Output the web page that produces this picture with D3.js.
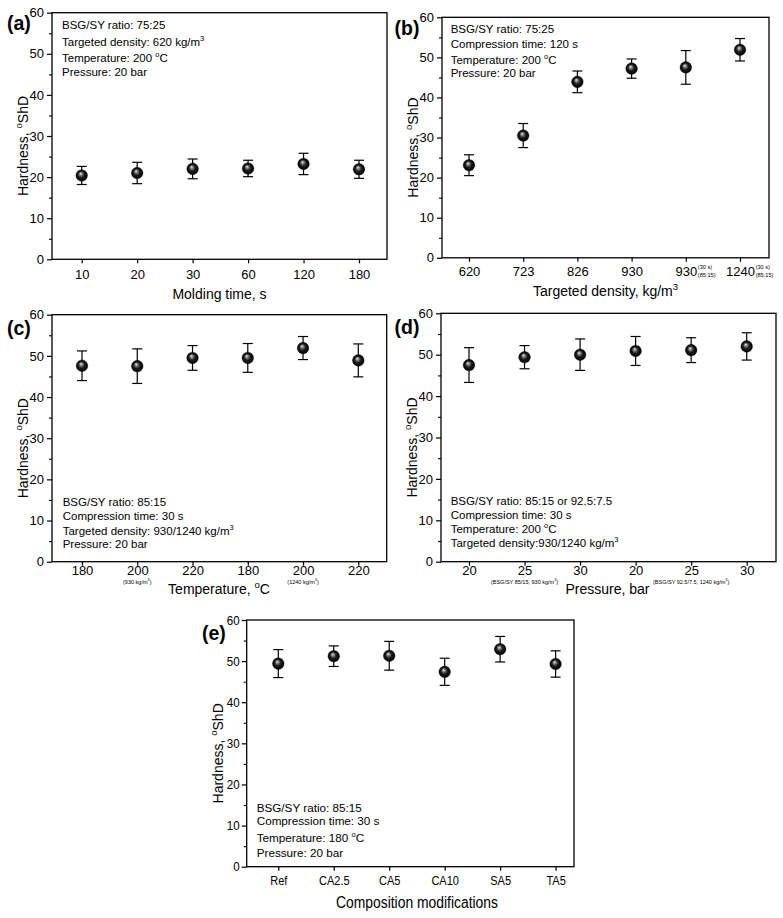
<!DOCTYPE html>
<html>
<head>
<meta charset="utf-8">
<script src="https://cdn.jsdelivr.net/npm/d3@7"></script>
<style>
  html, body { margin: 0; padding: 0; background: #fff; }
  svg { display: block; font-family: "Liberation Sans", Arial, sans-serif; }
</style>
</head>
<body>
<svg id="chart" width="783" height="918"></svg>
<script>
// ---------------- DATA ----------------
const yTicks = [0, 10, 20, 30, 40, 50, 60];

const aCats = ["10", "20", "30", "60", "120", "180"];
const aMean = [20.4, 21.0, 22.0, 22.1, 23.2, 21.9];
const aErr  = [2.2, 2.6, 2.4, 2.0, 2.6, 2.2];

const bCats = ["620", "723", "826", "930", "930", "1240"];
const bMean = [23.1, 30.5, 43.9, 47.2, 47.5, 51.9];
const bErr  = [2.6, 3.0, 2.7, 2.4, 4.2, 2.8];
const bNoteTop = ["", "", "", "", "(30 s)", "(30 s)"];
const bNoteBot = ["", "", "", "", "(85:15)", "(85:15)"];

const cCats = ["180", "200", "220", "180", "200", "220"];
const cMean = [47.6, 47.5, 49.5, 49.5, 51.9, 48.9];
const cErr  = [3.6, 4.2, 3.0, 3.5, 2.8, 4.0];
const cSub  = ["", "(930 kg/m3)", "", "", "(1240 kg/m3)", ""];

const dCats = ["20", "25", "30", "20", "25", "30"];
const dMean = [47.5, 49.4, 50.0, 50.9, 51.1, 52.0];
const dErr  = [4.2, 2.8, 3.8, 3.5, 3.0, 3.3];
const dSub  = ["", "(BSG/SY 85/15, 930 kg/m3)", "", "", "(BSG/SY 92.5/7.5, 1240 kg/m3)", ""];

const eCats = ["Ref", "CA2.5", "CA5", "CA10", "SA5", "TA5"];
const eMean = [49.4, 51.2, 51.3, 47.4, 52.9, 49.3];
const eErr  = [3.4, 2.5, 3.5, 3.3, 3.1, 3.2];

// annotation lines: segments [text, isSup]
const aNotes = [[["BSG/SY ratio: 75:25"]], [["Targeted density: 620 kg/m"], ["3", 1]], [["Temperature: 200 "], ["o", 1], ["C"]], [["Pressure: 20 bar"]]];
const bNotes = [[["BSG/SY ratio: 75:25"]], [["Compression time: 120 s"]], [["Temperature: 200 "], ["o", 1], ["C"]], [["Pressure: 20 bar"]]];
const cNotes = [[["BSG/SY ratio: 85:15"]], [["Compression time: 30 s"]], [["Targeted density: 930/1240 kg/m"], ["3", 1]], [["Pressure: 20 bar"]]];
const dNotes = [[["BSG/SY ratio: 85:15 or 92.5:7.5"]], [["Compression time: 30 s"]], [["Temperature: 200 "], ["o", 1], ["C"]], [["Targeted density:930/1240 kg/m"], ["3", 1]]];
const eNotes = [[["BSG/SY ratio: 85:15"]], [["Compression time: 30 s"]], [["Temperature: 180 "], ["o", 1], ["C"]], [["Pressure: 20 bar"]]];

const yTitle = [["Hardness, "], ["o", 1], ["ShD"]];

// ---------------- LAYOUT ----------------
const panels = [
  { label: "(a)", lx: 7,   ly: 29.6, left: 52,  right: 387, top: 12.7, bottom: 259.3, x0: 81.7, x1: 359,
    cats: aCats, mean: aMean, err: aErr, notes: aNotes, nx: 62, ny: [29.3, 45.7, 62.3, 76],
    xTitle: [["Molding time, s"]], xtX: 219.5, xtY: 298.5, tickPad: 6 },
  { label: "(b)", lx: 394.5, ly: 34.6, left: 442, right: 769, top: 17.3, bottom: 257.8, x0: 469, x1: 740,
    cats: bCats, mean: bMean, err: bErr, notes: bNotes, nx: 450.7, ny: [33.3, 47.7, 64, 77.3],
    xTitle: [["Targeted density, kg/m"], ["3", 1]], xtX: 605.5, xtY: 295.5, noteTop: bNoteTop, noteBot: bNoteBot, tickPad: 5 },
  { label: "(c)", lx: 7,   ly: 334.6, left: 52,  right: 386.7, top: 314.7, bottom: 561.7, x0: 82, x1: 358.3,
    cats: cCats, mean: cMean, err: cErr, notes: cNotes, nx: 62.7, ny: [506, 520, 534.5, 547.5],
    xTitle: [["Temperature, "], ["o", 1], ["C"]], xtX: 219, xtY: 593.5, sub: cSub, tickPad: 0.5 },
  { label: "(d)", lx: 394.5, ly: 333.5, left: 441, right: 776, top: 313.3, bottom: 561.7, x0: 469, x1: 746.7,
    cats: dCats, mean: dMean, err: dErr, notes: dNotes, nx: 450.7, ny: [505, 519, 533.3, 547.3],
    xTitle: [["Pressure, bar"]], xtX: 607.5, xtY: 593.5, sub: dSub, tickPad: 0.5 },
  { label: "(e)", lx: 202, ly: 639.6, left: 246.7, right: 574, top: 620, bottom: 866.7, x0: 278.3, x1: 555.6,
    cats: eCats, mean: eMean, err: eErr, notes: eNotes, nx: 256.7, ny: [811.7, 824.5, 842.3, 857],
    xTitle: [["Composition modifications"]], xtX: 417, xtY: 908, narrow: true, tickPad: 5.5 }
];

const svg = d3.select("#chart");

// sphere gradient
const defs = svg.append("defs");
const grad = defs.append("radialGradient").attr("id", "sphere")
  .attr("cx", 0.5).attr("cy", 0.5).attr("r", 0.5).attr("fx", 0.4).attr("fy", 0.33);
grad.append("stop").attr("offset", "0%").attr("stop-color", "#f2f2f2");
grad.append("stop").attr("offset", "22%").attr("stop-color", "#8a8a8a");
grad.append("stop").attr("offset", "55%").attr("stop-color", "#1c1c1c");
grad.append("stop").attr("offset", "100%").attr("stop-color", "#000");

// text with superscript segments; base = font size of the text element
function rich(textSel, segs, base, supSize) {
  const shift = base * 0.42;
  let prevSup = false;
  segs.forEach(s => {
    const isSup = !!s[1];
    const t = textSel.append("tspan").text(s[0]);
    if (isSup) t.attr("font-size", supSize);
    if (isSup && !prevSup) t.attr("dy", -shift);
    else if (!isSup && prevSup) t.attr("dy", shift);
    prevSup = isSup;
  });
}

panels.forEach(p => {
  const g = svg.append("g");
  const idx = p.cats.map((c, i) => i);
  const x = d3.scalePoint().domain(idx).range([p.x0, p.x1]).padding(0);
  const y = d3.scaleLinear().domain([0, 60]).range([p.bottom, p.top]);

  // box
  g.append("rect").attr("x", p.left).attr("y", p.top)
    .attr("width", p.right - p.left).attr("height", p.bottom - p.top)
    .attr("fill", "none").attr("stroke", "#000").attr("stroke-width", 1.3);

  // y axis major
  const yAx = g.append("g").attr("transform", `translate(${p.left},0)`)
    .call(d3.axisLeft(y).tickValues(yTicks).tickSize(5).tickPadding(3).tickFormat(d3.format("d")));
  yAx.select(".domain").remove();
  yAx.selectAll("line").attr("stroke-width", 1.2);
  yAx.selectAll("text").attr("font-size", 13).attr("font-family", "Liberation Sans, Arial, sans-serif").attr("fill", "#000");
  if (p.narrow) yAx.selectAll("text").attr("transform", "scale(0.89,1)");
  // minor ticks
  g.append("g").attr("transform", `translate(${p.left},0)`)
    .call(d3.axisLeft(y).tickValues(d3.range(5, 60, 10)).tickSize(3).tickFormat(""))
    .call(s => s.select(".domain").remove())
    .selectAll("line").attr("stroke-width", 1.1);

  // x axis
  const xAx = g.append("g").attr("transform", `translate(0,${p.bottom})`)
    .call(d3.axisBottom(x).tickSize(4).tickPadding(p.tickPad).tickFormat(i => p.cats[i]));
  xAx.select(".domain").remove();
  xAx.selectAll("line").attr("stroke-width", 1.2);
  xAx.selectAll("text").attr("font-size", 13).attr("font-family", "Liberation Sans, Arial, sans-serif").attr("fill", "#000");
  if (p.narrow) xAx.selectAll("text").attr("transform", "scale(0.85,1)");

  // b: superscript/subscript notes on ticks
  if (p.noteTop) {
    idx.forEach(i => {
      if (!p.noteTop[i]) return;
      const half = p.cats[i].length * 13 * 0.556 / 2;
      g.append("text").attr("x", x(i) + half + 1.2).attr("y", p.bottom + 11.5)
        .attr("font-size", 5.6).text(p.noteTop[i]);
      g.append("text").attr("x", x(i) + half + 1.2).attr("y", p.bottom + 18.7)
        .attr("font-size", 5.6).text(p.noteBot[i]);
    });
  }
  // c, d: small sub labels under ticks
  if (p.sub) {
    idx.forEach(i => {
      if (!p.sub[i]) return;
      const t = g.append("text").attr("x", x(i)).attr("y", p.bottom + 22)
        .attr("text-anchor", "middle").attr("font-size", 5.5);
      const s = p.sub[i];
      const k = s.lastIndexOf("3");
      rich(t, [[s.slice(0, k)], ["3", 1], [s.slice(k + 1)]], 5.5, 3.8);
    });
  }

  // y title
  const yt = g.append("text")
    .attr("transform", `translate(${p.left - 24},${(p.top + p.bottom) / 2 + 10}) rotate(-90)`)
    .attr("text-anchor", "middle").attr("font-size", 14);
  rich(yt, yTitle, 14, 9.5);

  // x title
  const xfs = p.narrow ? 16 : 14;
  const xt = g.append("text").attr("x", p.xtX).attr("y", p.xtY)
    .attr("text-anchor", "middle").attr("font-size", xfs);
  rich(xt, p.xTitle, xfs, 9.5);
  if (p.narrow) xt.attr("textLength", 162).attr("lengthAdjust", "spacingAndGlyphs");

  // panel label
  g.append("text").attr("x", p.lx).attr("y", p.ly)
    .attr("font-size", 19.5).attr("font-weight", "bold").text(p.label);

  // annotations
  const nfs = p.narrow ? 11.7 : 11.5;
  p.notes.forEach((line, li) => {
    const t = g.append("text").attr("x", p.nx).attr("y", p.ny[li]).attr("font-size", nfs);
    rich(t, line, nfs, 7.5);
  });

  // error bars
  const eb = g.append("g").attr("stroke", "#000").attr("stroke-width", 1.2);
  idx.forEach(i => {
    const cx = x(i), lo = y(p.mean[i] - p.err[i]), hi = y(p.mean[i] + p.err[i]);
    eb.append("line").attr("x1", cx).attr("x2", cx).attr("y1", lo).attr("y2", hi);
    eb.append("line").attr("x1", cx - 5).attr("x2", cx + 5).attr("y1", lo).attr("y2", lo);
    eb.append("line").attr("x1", cx - 5).attr("x2", cx + 5).attr("y1", hi).attr("y2", hi);
  });

  // markers
  g.append("g").selectAll("circle").data(idx).join("circle")
    .attr("cx", i => x(i)).attr("cy", i => y(p.mean[i]))
    .attr("r", 5.8).attr("fill", "url(#sphere)").attr("stroke", "#000").attr("stroke-width", 0.4);
});
</script>
</body>
</html>
